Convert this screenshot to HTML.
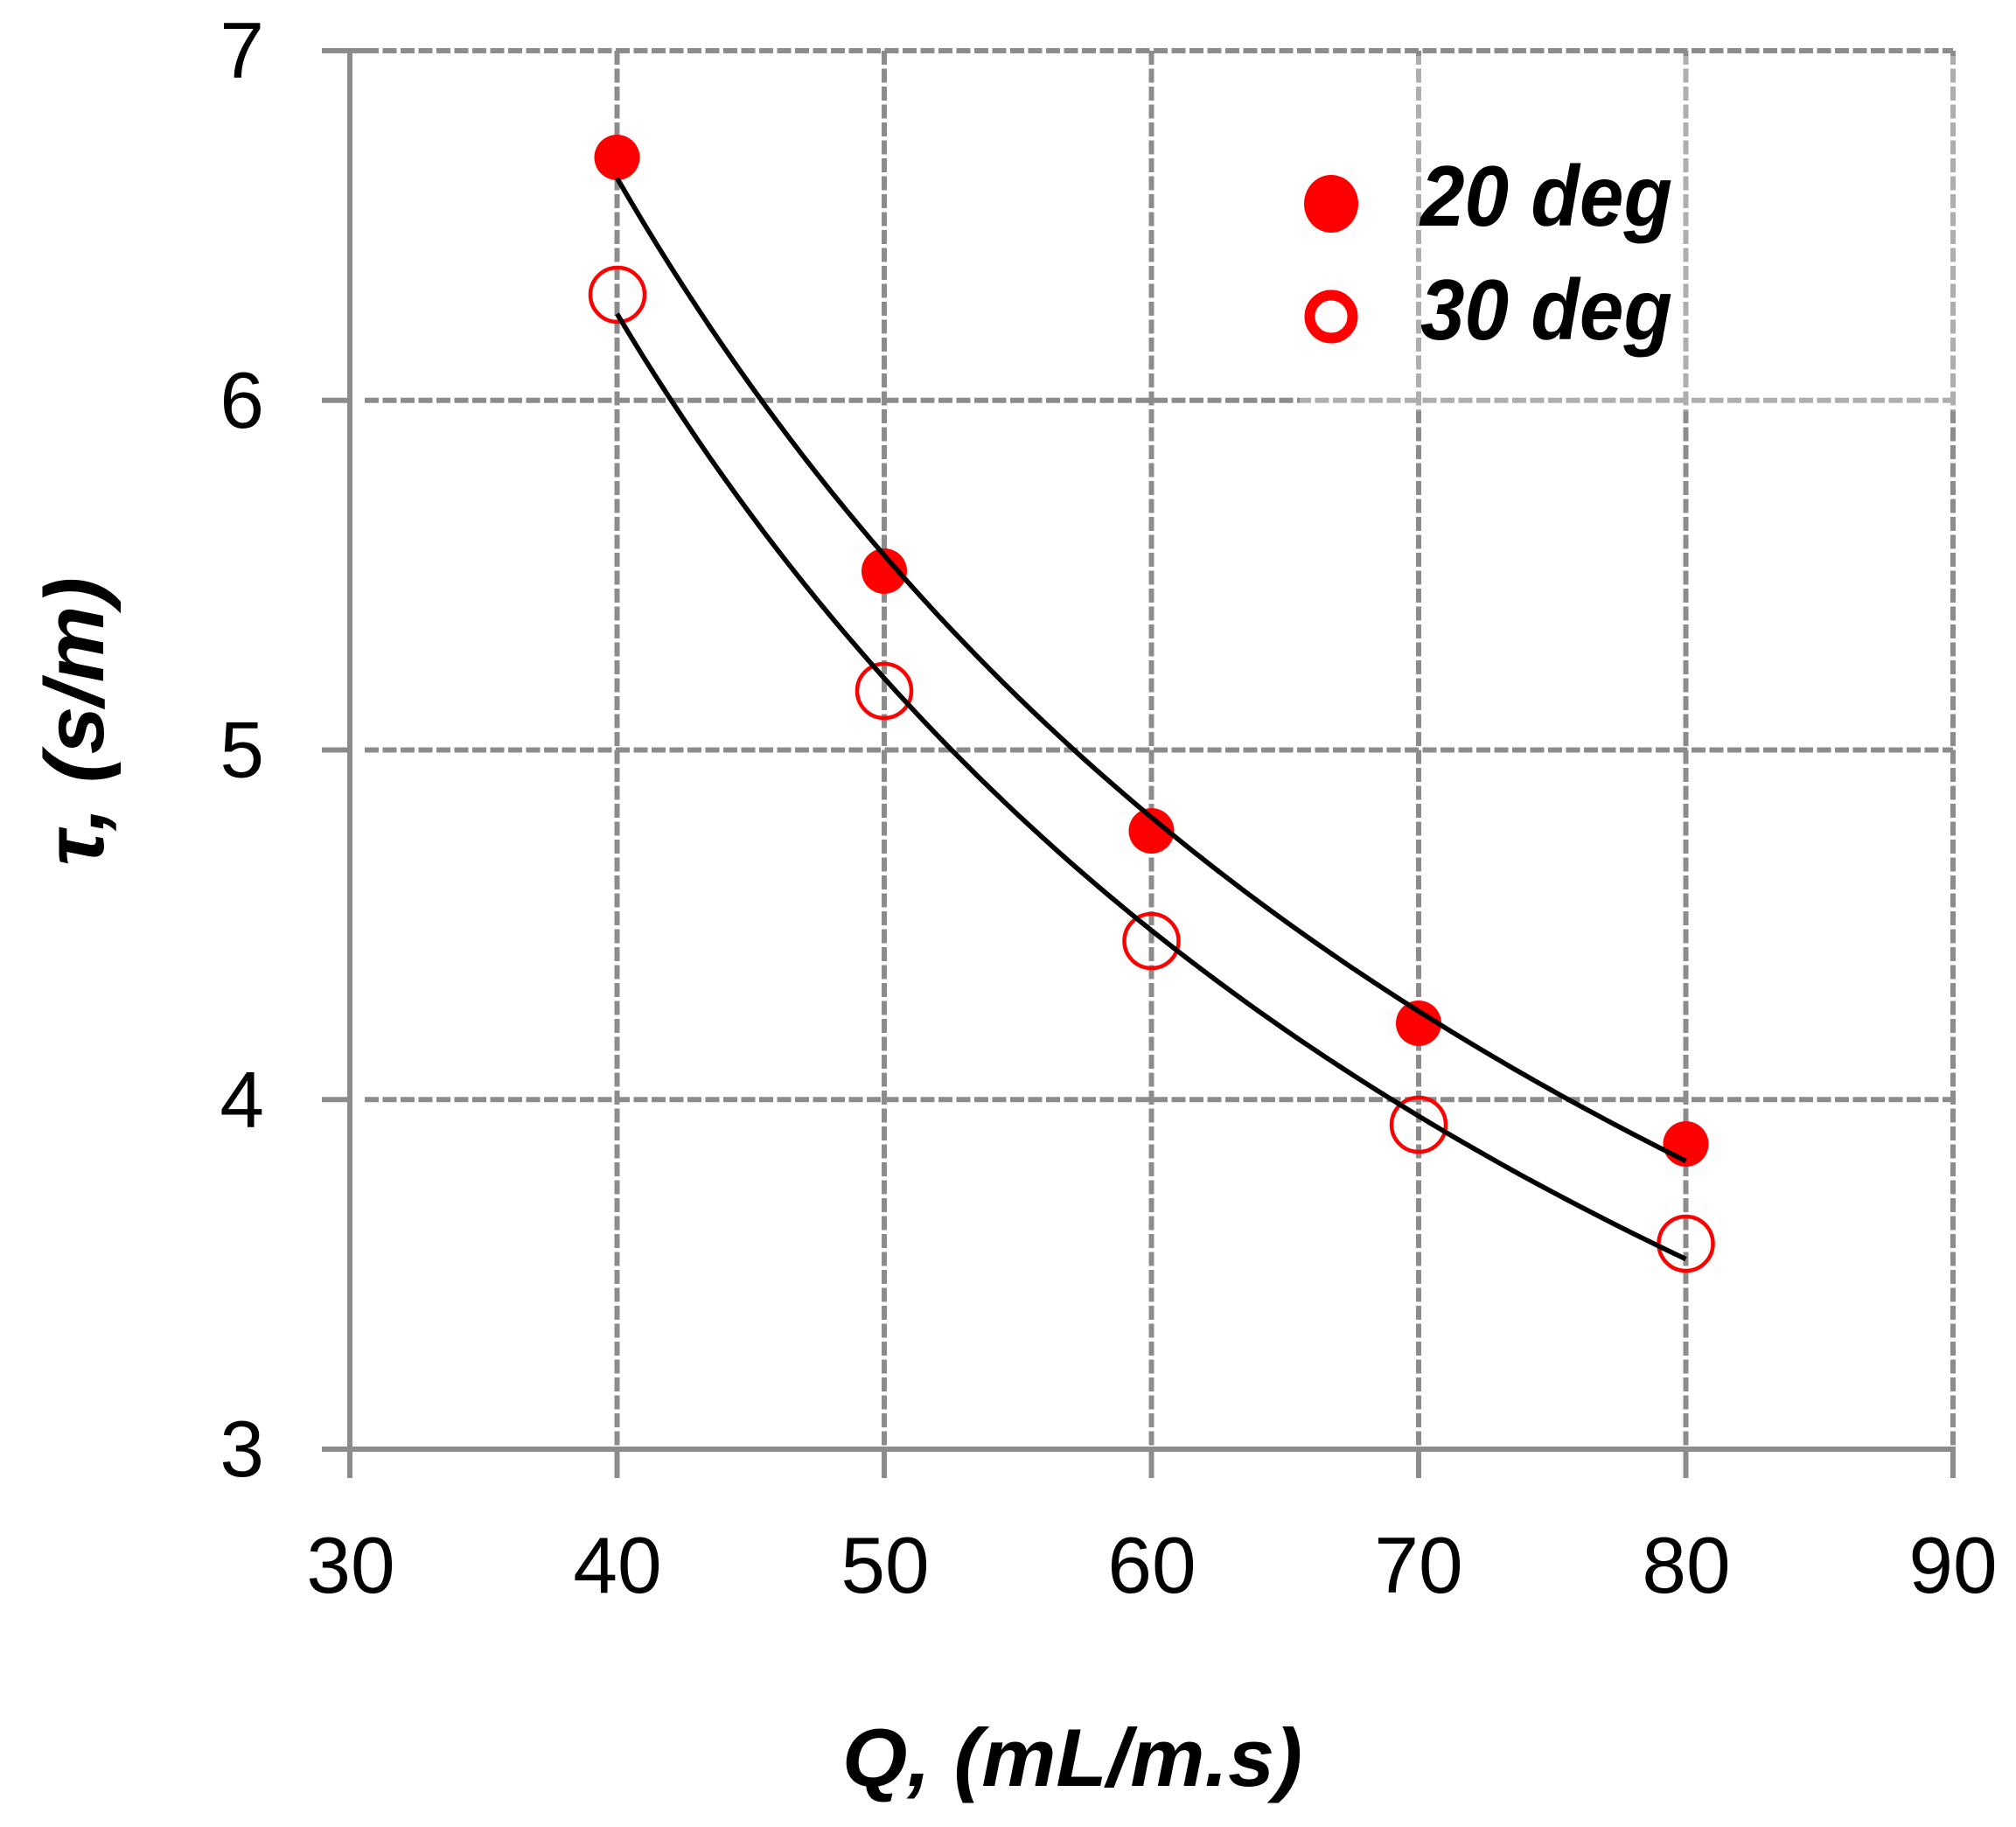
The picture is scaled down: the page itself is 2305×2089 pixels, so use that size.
<!DOCTYPE html>
<html>
<head>
<meta charset="utf-8">
<style>
  html, body { margin: 0; padding: 0; background: #fff; }
  svg { display: block; }
  .tick { font-family: "Liberation Sans", "DejaVu Sans", sans-serif; font-size: 91px; fill: #000; }
  .title { font-family: "Liberation Sans", "DejaVu Sans", sans-serif; font-weight: bold; font-style: italic; fill: #000; }
</style>
</head>
<body>
<svg width="2305" height="2089" viewBox="0 0 2305 2089" xmlns="http://www.w3.org/2000/svg">
  <rect x="0" y="0" width="2305" height="2089" fill="#fff"/>

  <!-- dashed horizontal gridlines -->
  <g stroke="#8c8c8c" stroke-width="6" fill="none" stroke-dasharray="16 4.5">
    <line x1="417" y1="58" x2="2233" y2="58"/>
    <line x1="417" y1="457.75" x2="2233" y2="457.75"/>
    <line x1="417" y1="857.5" x2="2233" y2="857.5"/>
    <line x1="417" y1="1257.25" x2="2233" y2="1257.25"/>
  </g>
  <!-- dashed vertical gridlines -->
  <g stroke="#8c8c8c" stroke-width="6" fill="none" stroke-dasharray="16 4.5">
    <line x1="705.5" y1="58" x2="705.5" y2="1657"/>
    <line x1="1011" y1="58" x2="1011" y2="1657"/>
    <line x1="1316.5" y1="58" x2="1316.5" y2="1657"/>
    <line x1="1622" y1="58" x2="1622" y2="1657"/>
    <line x1="1927.5" y1="58" x2="1927.5" y2="1657"/>
    <line x1="2233" y1="58" x2="2233" y2="1657"/>
  </g>
  <!-- solid axes and ticks -->
  <g stroke="#8c8c8c" stroke-width="6" fill="none">
    <line x1="400" y1="55" x2="400" y2="1690"/>
    <line x1="368" y1="1657" x2="2236" y2="1657"/>
    <line x1="368" y1="58" x2="417" y2="58"/>
    <line x1="368" y1="457.75" x2="400" y2="457.75"/>
    <line x1="368" y1="857.5" x2="400" y2="857.5"/>
    <line x1="368" y1="1257.25" x2="400" y2="1257.25"/>
    <line x1="705.5" y1="1657" x2="705.5" y2="1690"/>
    <line x1="1011" y1="1657" x2="1011" y2="1690"/>
    <line x1="1316.5" y1="1657" x2="1316.5" y2="1690"/>
    <line x1="1622" y1="1657" x2="1622" y2="1690"/>
    <line x1="1927.5" y1="1657" x2="1927.5" y2="1690"/>
    <line x1="2233" y1="1657" x2="2233" y2="1690"/>
  </g>

  <!-- lighter patch region (legend area) -->
  <rect x="1486" y="64" width="756" height="406" fill="#fff" fill-opacity="0.3"/>

  <!-- Y tick labels -->
  <g class="tick" text-anchor="end">
    <text x="302" y="89">7</text>
    <text x="302" y="488.75">6</text>
    <text x="302" y="888.5">5</text>
    <text x="302" y="1288.25">4</text>
    <text x="302" y="1688">3</text>
  </g>
  <!-- X tick labels -->
  <g class="tick" text-anchor="middle">
    <text x="401" y="1821">30</text>
    <text x="706" y="1821">40</text>
    <text x="1012" y="1821">50</text>
    <text x="1317" y="1821">60</text>
    <text x="1622" y="1821">70</text>
    <text x="1928" y="1821">80</text>
    <text x="2233" y="1821">90</text>
  </g>

  <!-- axis titles -->
  <text class="title" x="963" y="2042" font-size="94" textLength="526" lengthAdjust="spacingAndGlyphs">Q, (mL/m.s)</text>
  <text class="title" transform="translate(118,990) rotate(-90)" x="0" y="0" font-size="96" textLength="330" lengthAdjust="spacingAndGlyphs">τ, (s/m)</text>

  <!-- data markers: 20 deg (filled) -->
  <g fill="#ff0000">
    <circle cx="705.5" cy="180" r="26"/>
    <circle cx="1011" cy="653" r="26"/>
    <circle cx="1316.5" cy="950" r="26"/>
    <circle cx="1622" cy="1170" r="26"/>
    <circle cx="1927.5" cy="1308" r="26"/>
  </g>
  <!-- data markers: 30 deg (open) -->
  <g fill="none" stroke="#ff0000" stroke-width="4.5">
    <circle cx="706" cy="337" r="31"/>
    <circle cx="1011" cy="790" r="31"/>
    <circle cx="1316.5" cy="1076" r="31"/>
    <circle cx="1622" cy="1286" r="31"/>
    <circle cx="1927.5" cy="1422" r="31"/>
  </g>

  <!-- fitted curves -->
  <g fill="none" stroke="#000" stroke-width="5.6" stroke-linejoin="round" stroke-linecap="butt">
    <polyline id="c1" points="705.5,203.5 781.9,328.2 858.3,440.5 934.6,542.1 1011,634.4 1087.4,719.2 1163.8,796.7 1240.1,868.3 1316.5,934.2 1392.9,995.8 1469.3,1053.0 1545.6,1106.1 1622,1156.1 1698.4,1202.9 1774.8,1246.9 1851.1,1288.4 1927.5,1327.2"/>
    <polyline id="c2" points="705.5,358.7 781.9,479.8 858.3,588.5 934.6,686.4 1011,775.6 1087.4,856.7 1163.8,931.5 1240.1,1000.2 1316.5,1063.8 1392.9,1122.5 1469.3,1177.3 1545.6,1228.1 1622,1276.1 1698.4,1320.8 1774.8,1362.8 1851.1,1402.4 1927.5,1439.5"/>
  </g>

  <!-- legend -->
  <ellipse cx="1522" cy="233" rx="31" ry="33" fill="#ff0000"/>
  <circle cx="1522" cy="362" r="24.5" fill="none" stroke="#ff0000" stroke-width="12"/>
  <text class="title" x="1624" y="258" font-size="98" textLength="288" lengthAdjust="spacingAndGlyphs">20 deg</text>
  <text class="title" x="1624" y="388" font-size="98" textLength="288" lengthAdjust="spacingAndGlyphs">30 deg</text>
</svg>
<script>
(function(){
  function X(q){ return 400 + (q-30)*30.55; }
  function Y(v){ return 58 + (7-v)*399.75; }
  function build(a,b){
    var pts=[];
    for(var q=40;q<=80.0001;q+=0.5){
      var v=a*Math.pow(q,-b);
      pts.push(X(q).toFixed(1)+','+Y(v).toFixed(1));
    }
    return pts.join(' ');
  }
  try{
    document.getElementById('c1').setAttribute('points', build(124.6,0.795));
    document.getElementById('c2').setAttribute('points', build(127.7,0.818));
  }catch(e){}
})();
</script>
</body>
</html>
